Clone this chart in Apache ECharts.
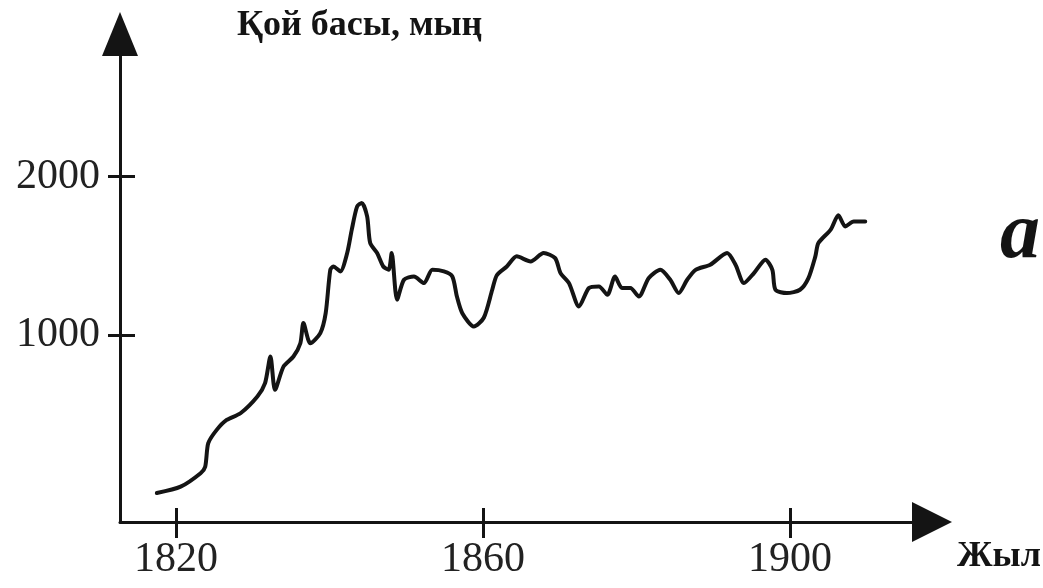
<!DOCTYPE html>
<html>
<head>
<meta charset="utf-8">
<script src="https://cdn.jsdelivr.net/npm/echarts@6/dist/echarts.min.js"></script>
<style>
html,body{margin:0;padding:0;background:#fff;}
#chart{width:1043px;height:588px;}
</style>
</head>
<body>
<div id="chart"></div>
<script>
// Data
var years = [1817.5, 1820.6, 1823.2, 1823.8, 1824.2, 1825.3, 1826.6, 1828.4, 1830.6, 1831.6,
  1832.3, 1832.9, 1834.0, 1835.3, 1836.2, 1836.6, 1837.5, 1838.8, 1839.5, 1840.1,
  1840.5, 1841.4, 1842.3, 1842.9, 1843.6, 1844.2, 1844.9, 1845.3, 1846.2, 1847.0,
  1847.7, 1848.1, 1848.8, 1849.7, 1851.0, 1852.3, 1853.4, 1854.9, 1856.0, 1856.6,
  1857.3, 1858.8, 1860.1, 1861.2, 1861.8, 1863.1, 1864.4, 1866.2, 1867.9, 1869.4,
  1870.1, 1871.2, 1872.5, 1873.8, 1875.1, 1876.2, 1877.2, 1878.1, 1879.2, 1880.3,
  1881.6, 1883.1, 1884.4, 1885.5, 1886.6, 1887.7, 1889.6, 1891.8, 1892.9, 1894.0,
  1895.3, 1896.8, 1897.7, 1898.1, 1899.6, 1901.3, 1902.4, 1903.3, 1903.7, 1905.3,
  1906.3, 1907.2, 1908.3, 1909.8];
var sheep = [0, 40, 125, 166, 315, 399, 462, 504, 610, 694,
  863, 652, 799, 863, 947, 1074, 947, 1011, 1137, 1411,
  1432, 1401, 1517, 1665, 1812, 1834, 1749, 1580, 1517, 1432,
  1411, 1517, 1222, 1348, 1369, 1327, 1411, 1401, 1369, 1242,
  1137, 1053, 1108, 1285, 1377, 1432, 1496, 1464, 1517, 1485,
  1390, 1327, 1179, 1296, 1306, 1253, 1369, 1296, 1296, 1242,
  1359, 1411, 1348, 1264, 1348, 1411, 1443, 1517, 1443, 1327,
  1390, 1475, 1411, 1285, 1264, 1285, 1359, 1496, 1580, 1665,
  1756, 1685, 1717, 1717];
var xTicks = [1820, 1860, 1900];
var yTicks = [1000, 2000];
var yTitle = 'Қой басы, мың';
var xTitle = 'Жыл';
var panelLetter = 'a';

var seriesData = years.map(function (y, i) { return [y, sheep[i]]; });

var ink = '#141414';
var serif = '"Liberation Serif", "DejaVu Serif", serif';
var plain = function (v) { return String(v); };

var chart = echarts.init(document.getElementById('chart'), null, {renderer: 'canvas'});
chart.setOption({
  backgroundColor: '#ffffff',
  animation: false,
  grid: {left: 120, right: 111, top: 34, bottom: 66, containLabel: false},
  xAxis: [{
    type: 'value', min: 1812.7, max: 1918.5, position: 'bottom',
    splitLine: {show: false},
    axisLine: {onZero: false, symbol: ['none', 'triangle'], symbolSize: [40, 40],
      lineStyle: {color: ink, width: 3}},
    axisTick: {show: true, customValues: xTicks, length: 16, inside: false,
      lineStyle: {color: ink, width: 3}},
    axisLabel: {customValues: xTicks, formatter: plain, margin: 17, color: '#222',
      fontFamily: serif, fontSize: 42}
  }, {
    type: 'value', min: 1812.7, max: 1918.5, position: 'bottom',
    splitLine: {show: false},
    axisLine: {show: false, onZero: false},
    axisTick: {show: true, customValues: xTicks, length: 14, inside: true,
      lineStyle: {color: ink, width: 3}},
    axisLabel: {show: false}
  }],
  yAxis: [{
    type: 'value', min: -183.5, max: 2902, position: 'left',
    splitLine: {show: false},
    axisLine: {show: true, onZero: false, symbol: ['none', 'triangle'], symbolSize: [36, 44],
      lineStyle: {color: ink, width: 3}},
    axisTick: {show: true, customValues: yTicks, length: 12, inside: false,
      lineStyle: {color: ink, width: 3}},
    axisLabel: {customValues: yTicks, formatter: plain, margin: 20, color: '#222',
      fontFamily: serif, fontSize: 42}
  }, {
    type: 'value', min: -183.5, max: 2902, position: 'left',
    splitLine: {show: false},
    axisLine: {show: false, onZero: false},
    axisTick: {show: true, customValues: yTicks, length: 15, inside: true,
      lineStyle: {color: ink, width: 3}},
    axisLabel: {show: false}
  }],
  graphic: [
    {type: 'text', left: 237, top: 8,
      style: {text: yTitle, fill: ink, font: 'bold 36px ' + serif}},
    {type: 'text', left: 957, top: 539,
      style: {text: xTitle, fill: ink, font: 'bold 36px ' + serif}},
    {type: 'text', left: 1000, top: 196,
      style: {text: panelLetter, fill: ink, font: 'italic bold 80px ' + serif}}
  ],
  series: [{
    type: 'line',
    data: seriesData,
    xAxisIndex: 0, yAxisIndex: 0,
    showSymbol: false,
    smooth: 0.25,
    lineStyle: {color: ink, width: 4, join: 'round', cap: 'round'}
  }]
});
</script>
</body>
</html>
